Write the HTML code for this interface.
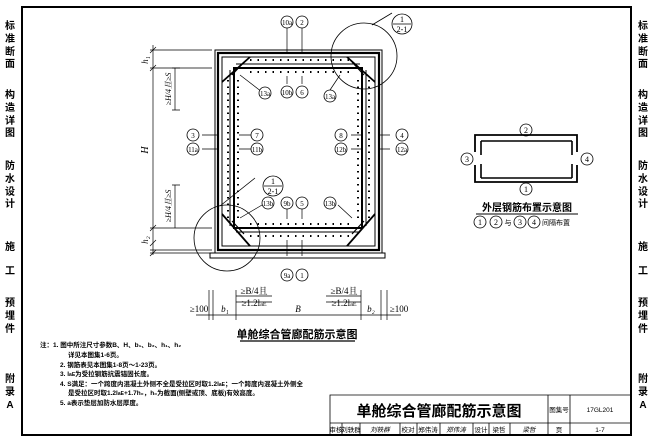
<!DOCTYPE html><html><head><meta charset="utf-8"><style>
body{margin:0;background:#fff}
svg{display:block;font-family:"Liberation Serif","Noto Serif CJK SC","Noto Sans CJK SC",serif}
.c{font-family:"Liberation Sans","Noto Sans CJK SC",sans-serif}
</style></head><body>
<svg width="653" height="441" viewBox="0 0 653 441">
<rect x="22" y="7" width="609" height="428" fill="none" stroke="#000" stroke-width="2"/>
<g class="c" font-size="10" font-weight="bold" text-anchor="middle">
<text x="10" y="29">标</text><text x="10" y="42">准</text><text x="10" y="55">断</text><text x="10" y="67">面</text>
<text x="10" y="98">构</text><text x="10" y="111">造</text><text x="10" y="124">详</text><text x="10" y="136">图</text>
<text x="10" y="169">防</text><text x="10" y="182">水</text><text x="10" y="195">设</text><text x="10" y="207">计</text>
<text x="10" y="250">施</text><text x="10" y="274">工</text>
<text x="10" y="306">预</text><text x="10" y="319">埋</text><text x="10" y="332">件</text>
<text x="10" y="382">附</text><text x="10" y="395">录</text><text x="10" y="408">A</text>
<text x="643" y="29">标</text><text x="643" y="42">准</text><text x="643" y="55">断</text><text x="643" y="67">面</text>
<text x="643" y="98">构</text><text x="643" y="111">造</text><text x="643" y="124">详</text><text x="643" y="136">图</text>
<text x="643" y="169">防</text><text x="643" y="182">水</text><text x="643" y="195">设</text><text x="643" y="207">计</text>
<text x="643" y="250">施</text><text x="643" y="274">工</text>
<text x="643" y="306">预</text><text x="643" y="319">埋</text><text x="643" y="332">件</text>
<text x="643" y="382">附</text><text x="643" y="395">录</text><text x="643" y="408">A</text>
</g>
<!-- main section -->
<g stroke="#000" fill="none">
<rect x="215" y="50" width="167" height="203" stroke-width="1"/>
<rect x="210" y="253" width="175" height="5" stroke-width="1"/>
<rect x="218" y="53" width="161" height="197" stroke-width="2.2"/>
<rect x="222" y="57" width="153" height="189" stroke-width="1"/>
<rect x="234" y="68" width="128" height="160" stroke-width="2"/>
<path d="M230 70 L230 226 M366 70 L366 226 M236 64 L360 64 M236 232 L360 232" stroke-width="1"/>
<path d="M222 82 L250 57 M375 82 L347 57 M222 214 L250 246 M375 214 L347 246" stroke-width="1.8"/>
<path d="M232 75 L244 62 M364 75 L352 62 M232 221 L244 234 M364 221 L352 234" stroke-width="1.2"/>
</g>
<g fill="#000">
<path d="M228 80v140M369 80v140" stroke="#000" stroke-width="2" stroke-dasharray="1.5 5" fill="none"/>
<path d="M238 80v140M358 80v140" stroke="#000" stroke-width="2" stroke-dasharray="1.5 5" fill="none"/>
<path d="M250 60h100M250 72h100M250 224h100M250 236h100" stroke="#000" stroke-width="2" stroke-dasharray="1.5 6" fill="none"/>
</g>
<!-- detail circles -->
<g stroke="#000" fill="none" stroke-width="0.8">
<circle cx="364" cy="56" r="33"/><circle cx="227" cy="238" r="33"/>
<path d="M372 25 L392 13 M220 206 L255 178"/>
<circle cx="402" cy="24" r="10"/><line x1="393" y1="24" x2="411" y2="24"/>
<circle cx="273" cy="186" r="10"/><line x1="264" y1="186" x2="282" y2="186"/>
</g>
<g font-size="8" text-anchor="middle"><text x="402" y="22">1</text><text x="402" y="32">2-1</text><text x="273" y="184">1</text><text x="273" y="194">2-1</text></g>
<!-- leaders and labels -->
<g stroke="#000" stroke-width="0.7">
<path d="M287 26v28M302 26v28M287 76v8M302 76v8M287 219v-15M302 219v-15M287 240v16M302 240v16"/>
<path d="M202 135h16M202 149h16M239 135h12M239 149h12M351 135h11M351 149h11M380 135h10M380 149h10"/>
<path d="M240 75 L262 92M340 75 L330 90M240 218 L262 205M352 218 L338 205"/>
</g>
<g fill="#fff" stroke="#000" stroke-width="0.8">
<circle cx="287" cy="22" r="6"/><circle cx="302" cy="22" r="6"/>
<circle cx="265" cy="93" r="6"/><circle cx="287" cy="92" r="6"/><circle cx="302" cy="92" r="6"/><circle cx="330" cy="96" r="6"/>
<circle cx="193" cy="135" r="6"/><circle cx="193" cy="149" r="6"/><circle cx="257" cy="135" r="6"/><circle cx="257" cy="149" r="6"/>
<circle cx="341" cy="135" r="6"/><circle cx="341" cy="149" r="6"/><circle cx="402" cy="135" r="6"/><circle cx="402" cy="149" r="6"/>
<circle cx="268" cy="203" r="6"/><circle cx="287" cy="203" r="6"/><circle cx="302" cy="203" r="6"/><circle cx="330" cy="203" r="6"/>
<circle cx="287" cy="275" r="6"/><circle cx="302" cy="275" r="6"/>
</g>
<g font-size="7" text-anchor="middle">
<text x="287" y="25">10a</text><text x="302" y="25">2</text>
<text x="265" y="96">13a</text><text x="287" y="95">10b</text><text x="302" y="95">6</text><text x="330" y="99">13a</text>
<text x="193" y="138">3</text><text x="193" y="152">11a</text><text x="257" y="138">7</text><text x="257" y="152">11b</text>
<text x="341" y="138">8</text><text x="341" y="152">12b</text><text x="402" y="138">4</text><text x="402" y="152">12a</text>
<text x="268" y="206">13b</text><text x="287" y="206">9b</text><text x="302" y="206">5</text><text x="330" y="206">13b</text>
<text x="287" y="278">9a</text><text x="302" y="278">1</text>
</g>
<!-- left dims -->
<g stroke="#000" stroke-width="0.7">
<path d="M153 45v210M150 50h62M150 68h62M150 228h62M150 250h62M150 253h62"/>
<path d="M175 68v42M172 68h8M172 110h8M175 185v43M172 185h8"/>
<path d="M150 53l6 -6M150 71l6 -6M150 231l6 -6M150 246l6 -6M150 256l6 -6"/>
</g>
<g font-size="10" font-style="italic" text-anchor="middle">
<text transform="translate(148 60) rotate(-90)" font-size="9">h₁</text>
<text transform="translate(148 150) rotate(-90)">H</text>
<text transform="translate(148 240) rotate(-90)" font-size="9">h₂</text>
<text transform="translate(171 89) rotate(-90)" font-size="8">≥H/4且≥S</text>
<text transform="translate(171 206) rotate(-90)" font-size="8">≥H/4且≥S</text>
</g>
<!-- bottom dims -->
<g stroke="#000" stroke-width="0.7">
<path d="M209 290v30M213 290v30M236 290v30M361 290v30M381 290v30M387 290v30M196 315h205"/>
<path d="M236 296h36M236 302h36M326 296h35M326 302h35"/>
</g>
<g font-size="9" text-anchor="middle">
<text x="199" y="312">≥100</text><text x="225" y="312" font-style="italic">b₁</text><text x="298" y="312" font-style="italic">B</text>
<text x="371" y="312" font-style="italic">b₂</text><text x="399" y="312">≥100</text>
<text x="254" y="294">≥B/4且</text><text x="254" y="306">≥1.2l<tspan font-size="6">aE</tspan></text>
<text x="344" y="294">≥B/4且</text><text x="344" y="306">≥1.2l<tspan font-size="6">aE</tspan></text>
</g>
<text x="297" y="338" class="c" font-size="11" font-weight="bold" text-anchor="middle">单舱综合管廊配筋示意图</text>
<line x1="240" y1="341" x2="355" y2="341" stroke="#000" stroke-width="1.2"/>
<!-- right small figure -->
<g stroke="#000" fill="none">
<path d="M475 152V135H577V152M475 165V182H577V165" stroke-width="1.8"/>
<path d="M481 141v14M481 164v14M572 141v14M572 164v14M481 141h91M481 178h91" stroke-width="1.6"/>
</g>
<g fill="none" stroke="#000" stroke-width="0.8"><circle cx="526" cy="130" r="6"/><circle cx="526" cy="189" r="6"/><circle cx="467" cy="159" r="6"/><circle cx="587" cy="159" r="6"/></g>
<g font-size="8" text-anchor="middle"><text x="526" y="133">2</text><text x="526" y="192">1</text><text x="467" y="162">3</text><text x="587" y="162">4</text></g>
<text x="527" y="211" class="c" font-size="10" font-weight="bold" text-anchor="middle">外层钢筋布置示意图</text>
<line x1="476" y1="214" x2="578" y2="214" stroke="#000"/>
<g fill="none" stroke="#000" stroke-width="0.8"><circle cx="480" cy="222" r="6"/><circle cx="496" cy="222" r="6"/><circle cx="520" cy="222" r="6"/><circle cx="534" cy="222" r="6"/></g>
<g font-size="8" text-anchor="middle"><text x="480" y="225">1</text><text x="496" y="225">2</text><text x="520" y="225">3</text><text x="534" y="225">4</text></g>
<text x="508" y="225" class="c" font-size="7" text-anchor="middle">与</text>
<text x="542" y="225" class="c" font-size="7">间隔布置</text>
<!-- notes -->
<g class="c" font-size="6.5" font-weight="bold">
<text x="40" y="347">注：1. 图中所注尺寸参数B、H、b₁、b₂、h₁、h₂</text>
<text x="68" y="357">详见本图集1-6页。</text>
<text x="60" y="367">2. 钢筋表见本图集1-8页～1-23页。</text>
<text x="60" y="376">3. l<tspan font-size="5">aE</tspan>为受拉钢筋抗震锚固长度。</text>
<text x="60" y="386">4. S满足：一个跨度内混凝土外侧不全是受拉区时取1.2l<tspan font-size="5">aE</tspan>；一个跨度内混凝土外侧全</text>
<text x="68" y="395">是受拉区时取1.2l<tspan font-size="5">aE</tspan>+1.7h₀，h₀为截面(侧壁或顶、底板)有效高度。</text>
<text x="60" y="405">5. a表示垫层加防水层厚度。</text>
</g>
<!-- title block -->
<g stroke="#000" fill="none" stroke-width="0.8">
<path d="M330 435V395H631M330 423H631M548 395V435M570 395V435"/>
<path d="M342 423v12M360 423v12M400 423v12M417 423v12M440 423v12M473 423v12M489 423v12M510 423v12"/>
</g>
<text x="439" y="416" class="c" font-size="15" font-weight="bold" text-anchor="middle">单舱综合管廊配筋示意图</text>
<g class="c" font-size="6.5" text-anchor="middle">
<text x="559" y="412">图集号</text><text x="600" y="412">17GL201</text>
<text x="336" y="432">审核</text><text x="351" y="432">刘轶群</text><text x="380" y="432" font-style="italic">刘轶群</text>
<text x="408" y="432">校对</text><text x="428" y="432">郑伟涛</text><text x="456" y="432" font-style="italic">郑伟涛</text>
<text x="481" y="432">设计</text><text x="499" y="432">梁哲</text><text x="529" y="432" font-style="italic">梁哲</text>
<text x="559" y="432">页</text><text x="600" y="432">1-7</text>
</g>
</svg>
</body></html>
